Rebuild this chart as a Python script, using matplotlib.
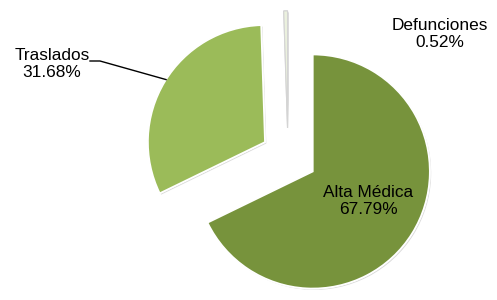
import numpy as np
import matplotlib
matplotlib.use('Agg')
import matplotlib.pyplot as plt
import matplotlib.patheffects as pe

# datos del grafico
categorias = ['Alta Médica', 'Traslados', 'Defunciones']
porcentajes = [67.79, 31.68, 0.52]
colores = ['#77933C', '#9BBB59', '#EBF1DE']
separacion = [0.25, 0.23, 0.24]

plt.rcParams['font.family'] = ['Liberation Sans', 'DejaVu Sans']

fig = plt.figure(figsize=(4.97, 3.0), dpi=100)
ax = fig.add_axes([0, 0, 1, 1])

# centro del pastel en pixeles (288, 156), radio 117 px
R = 117.0
cx, cy = 288.0, 156.0

def px(x, y):
    # pixel de imagen -> coordenadas de datos
    return ((x - cx) / R, (cy - y) / R)

wedges, _ = ax.pie(porcentajes, colors=colores, explode=separacion,
                   startangle=90, counterclock=False, radius=1.0,
                   wedgeprops=dict(edgecolor='white', linewidth=1.2))
for w in wedges:
    w.set_path_effects([pe.withSimplePatchShadow(offset=(1, -1), shadow_rgbFace='#999999', alpha=0.35),
                        pe.Normal()])
# la porcion de defunciones es muy delgada: borde gris claro
wedges[2].set_edgecolor('#d4d4d4')
wedges[2].set_linewidth(0.8)

ax.set_aspect('auto')
ax.set_xlim(-cx / R, (497 - cx) / R)
ax.set_ylim(-(300 - cy) / R, cy / R)
ax.axis('off')

fs = 12.4
etq = ['%s\n%.2f%%' % (c, p) for c, p in zip(categorias, porcentajes)]

ax.text(*px(368, 201), etq[0], ha='center', va='center', fontsize=fs, linespacing=1.1)
ax.text(*px(440, 34), etq[2], ha='center', va='center', fontsize=fs, linespacing=1.1)
ax.text(*px(52, 64), etq[1], ha='center', va='center', fontsize=fs, linespacing=1.1)

# linea guia de Traslados hasta el borde de la porcion
w = wedges[1]
ang = np.deg2rad(147.7)
xe = w.center[0] + w.r * np.cos(ang)
ye = w.center[1] + w.r * np.sin(ang)
p1 = px(90, 61)
p2 = px(100, 61)
ax.plot([p1[0], p2[0], xe], [p1[1], p2[1], ye], color='black', lw=1.0)

fig.savefig('out.png', dpi=100)
